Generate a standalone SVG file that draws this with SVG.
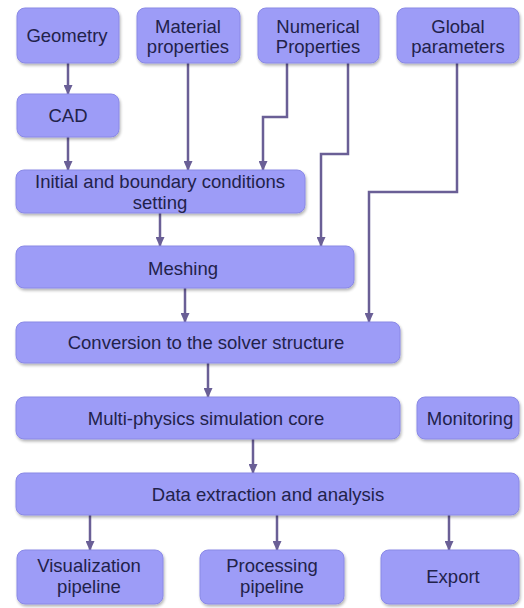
<svg xmlns="http://www.w3.org/2000/svg" width="524" height="608" viewBox="0 0 524 608">
<defs>
<filter id="sh" x="-10%" y="-10%" width="130%" height="140%">
<feGaussianBlur in="SourceAlpha" stdDeviation="1.5"/>
<feOffset dx="1" dy="2" result="b"/>
<feComponentTransfer><feFuncA type="linear" slope="0.3"/></feComponentTransfer>
<feMerge><feMergeNode/><feMergeNode in="SourceGraphic"/></feMerge>
</filter>
<marker id="ah" markerWidth="10" markerHeight="9" refX="9" refY="4.5" orient="auto" markerUnits="userSpaceOnUse">
<path d="M0,0 L10,4.5 L0,9 z" fill="#6a5f96"/>
</marker>
<style>
.n rect{fill:#9d9cf7;stroke:#8a89e6;stroke-width:1;filter:url(#sh)}
.n text{font-family:"Liberation Sans",Arial,sans-serif;font-size:18.5px;fill:#22224a;text-anchor:middle}
.c path{fill:none;stroke:#6a5f96;stroke-width:2.5;marker-end:url(#ah)}
</style>
</defs>
<g class="c" id="connectors">
<path d="M68,63 V94"/>
<path d="M68,137 V170"/>
<path d="M188,63 V170"/>
<path d="M287,63 V117 H263 V170"/>
<path d="M348,63 V154 H321 V246"/>
<path d="M457,63 V192 H369 V322"/>
<path d="M160,213 V246"/>
<path d="M185,288 V322"/>
<path d="M208,363 V397"/>
<path d="M253,439 V473"/>
<path d="M90,515 V550"/>
<path d="M277,515 V550"/>
<path d="M449,515 V550"/>
</g>
<g class="n" id="geometry"><rect x="17" y="8" width="102" height="55" rx="8"/><text x="67" y="42">Geometry</text></g>
<g class="n" id="material"><rect x="137" y="8" width="103" height="55" rx="8"/><text x="188" y="33">Material</text><text x="188" y="53">properties</text></g>
<g class="n" id="numerical"><rect x="258" y="8" width="121" height="55" rx="8"/><text x="318" y="33">Numerical</text><text x="318" y="53">Properties</text></g>
<g class="n" id="global"><rect x="397" y="8" width="122" height="55" rx="8"/><text x="458" y="33">Global</text><text x="458" y="53">parameters</text></g>
<g class="n" id="cad"><rect x="17" y="94" width="102" height="43" rx="8"/><text x="68" y="122">CAD</text></g>
<g class="n" id="initial"><rect x="16" y="170" width="289" height="43" rx="8"/><text x="160" y="188">Initial and boundary conditions</text><text x="160" y="209">setting</text></g>
<g class="n" id="meshing"><rect x="16" y="246" width="338" height="42" rx="8"/><text x="183" y="275">Meshing</text></g>
<g class="n" id="conversion"><rect x="16" y="322" width="384" height="41" rx="8"/><text x="206" y="349">Conversion to the solver structure</text></g>
<g class="n" id="multiphysics"><rect x="16" y="397" width="384" height="42" rx="8"/><text x="206" y="425">Multi-physics simulation core</text></g>
<g class="n" id="monitoring"><rect x="417" y="397" width="102" height="42" rx="8"/><text x="470" y="425">Monitoring</text></g>
<g class="n" id="data"><rect x="16" y="473" width="503" height="42" rx="8"/><text x="268" y="501">Data extraction and analysis</text></g>
<g class="n" id="visualization"><rect x="17" y="550" width="146" height="54" rx="8"/><text x="89" y="572">Visualization</text><text x="89" y="593">pipeline</text></g>
<g class="n" id="processing"><rect x="200" y="550" width="144" height="54" rx="8"/><text x="272" y="572">Processing</text><text x="272" y="593">pipeline</text></g>
<g class="n" id="export"><rect x="381" y="550" width="138" height="54" rx="8"/><text x="453" y="583">Export</text></g>
</svg>
